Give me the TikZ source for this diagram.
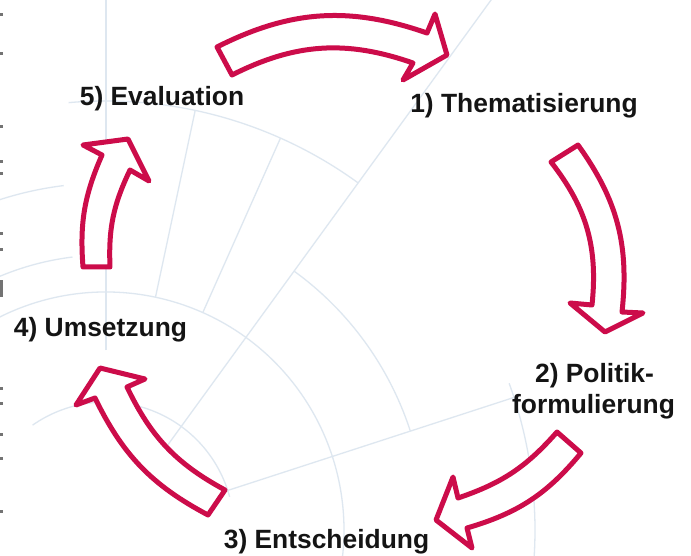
\documentclass[tikz,border=0pt]{standalone}
\usepackage{fontspec}
\setmainfont{Liberation Sans}
\definecolor{crim}{RGB}{204,12,74}
\definecolor{faint}{RGB}{222,231,240}
\definecolor{txt}{RGB}{20,20,20}
\begin{document}
\begin{tikzpicture}[x=1pt,y=-1pt,
  arr/.style={draw=crim,line width=5pt,fill=white,line join=round},
  bg/.style={draw=faint,line width=1.3pt},
  lab/.style={font=\fontsize{26.4}{31}\selectfont\bfseries,text=txt,inner sep=0pt,anchor=base},
  tick/.style={fill=black!55,draw=none}]
\useasboundingbox (0,0) rectangle (691,556);
\fill[white] (0,0) rectangle (691,556);
% faint background puzzle circle
\coordinate (C) at (106,530);
\begin{scope}[bg]
  \draw (C) ++(-54:100) -- ++(-54:570);
  \draw (C) ++(-18:125) -- ++(-18:304);
  \draw (C) ++(-78:238) -- ++(-78:191);
  \draw (C) ++(-66:238) -- ++(-66:191);
  \draw (C) ++(-90:180) -- ++(-90:360);
  \draw (C) ++(-95:429) arc[start angle=-95,end angle=-54,radius=429];
  \draw (C) ++(-20:429) arc[start angle=-20,end angle=5,radius=429];
  \draw (C) ++(-54:320) arc[start angle=-54,end angle=-18,radius=320];
  \draw (C) ++(-120:238) arc[start angle=-120,end angle=8,radius=238];
  \draw (C) ++(-125:128) arc[start angle=-125,end angle=-15,radius=128];
  \draw (C) ++(-118:347) arc[start angle=-118,end angle=-97,radius=347];
  \draw (C) ++(-118:275) arc[start angle=-118,end angle=-97,radius=275];
\end{scope}
% left edge ticks
\foreach \yy in {13,52,125,160,172,232,248,387,402,433,457,510}
  \fill[tick] (0,\yy) rectangle (2.5,\yy+3);
\fill[tick] (0,280) rectangle (2.5,297);
% arrows
\draw[arr] (217,47) to[bend left=23] (427,33) -- (435,14) -- (447,55)
  -- (403,80) -- (413,63) to[bend right=23] (232,75) -- cycle;
\draw[arr] (578,145) to[bend left=21] (622,312) -- (643,313) -- (605,332)
  -- (570,303) -- (592,305) to[bend right=22] (551,162) -- cycle;
\draw[arr] (557,432) to[bend left=15] (458,498) -- (453,477) -- (436,520)
  -- (472,548) -- (467,528) to[bend right=17] (581,453) -- cycle;
\draw[arr] (225,490) to[bend left=18] (127,387) -- (145,379) -- (100,368)
  -- (76,405) -- (95,398) to[bend right=18] (208,515) -- cycle;
\draw[arr] (83,267) to[bend left=14] (102,155) -- (83,145) -- (128,139)
  -- (149,181) -- (130,170) to[bend right=14] (110,267) -- cycle;
% labels
\node[lab] (eval) at (162,106) {5) Evaluation};
\node[lab] (them) at (524,113) {1) Thematisierung};
\node[lab] (polA) at (594.5,382) {2) Politik-};
\node[lab] (polB) at (593.5,413) {formulierung};
\node[lab] (ents) at (326.5,548) {3) Entscheidung};
\node[lab] (umse) at (100.5,336) {4) Umsetzung};
\end{tikzpicture}
\end{document}
